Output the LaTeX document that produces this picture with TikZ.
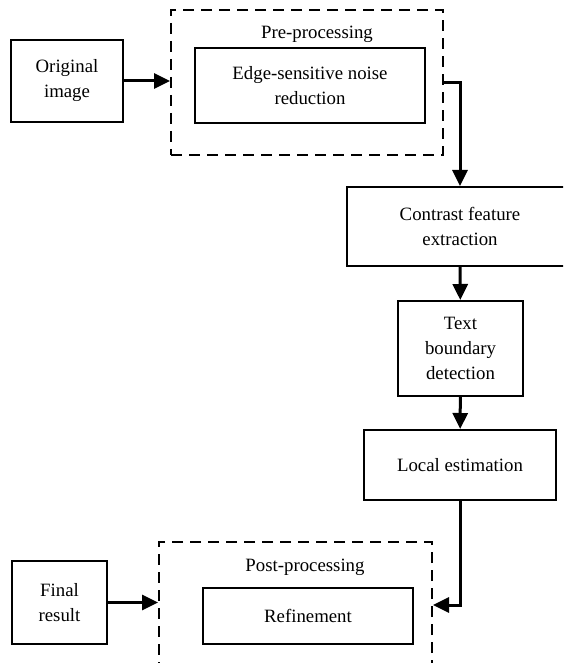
\documentclass[tikz,border=0pt]{standalone}
\usepackage{fontspec}
\setmainfont{Liberation Serif}
\usetikzlibrary{positioning, arrows.meta}

\begin{document}
\begin{tikzpicture}[x=0.5pt, y=-0.5pt,
        font=\fontsize{9.4}{12.5}\selectfont,
        block/.style={rectangle, draw, line width=1pt, align=center, inner sep=0pt},
        group/.style={rectangle, draw, line width=1pt, dash pattern=on 5.5pt off 3.5pt, inner sep=0pt},
        flow/.style={-{Triangle[length=8pt, width=7.5pt]}, line width=1.5pt}]
        \clip (0,0) rectangle (563,663);
        % Pre-processing group
        \node[group, minimum width=136pt, minimum height=72.5pt] (pre) at (307,82.5) {};
        \node (prelabel) at (317,34) {Pre-processing};
        \node[block, minimum width=115pt, minimum height=37.5pt] (noise) at (310,85.5) {Edge-sensitive noise\\reduction};
        \node[block, minimum width=56pt, minimum height=41pt] (orig) at (67,81) {Original\\image};
        % Main chain
        \node[block, minimum width=113pt, minimum height=39.5pt] (contrast) at (460,226.5) {Contrast feature\\extraction};
        \node[block, minimum width=62.5pt, minimum height=47.5pt] (boundary) at (460.5,348.5) {Text\\boundary\\detection};
        \node[block, minimum width=96pt, minimum height=35pt] (local) at (460,465) {Local estimation};
        % Post-processing group
        \node[group, minimum width=136.5pt, minimum height=63pt] (post) at (295.5,605) {};
        \node (postlabel) at (305,567) {Post-processing};
        \node[block, minimum width=105pt, minimum height=28pt] (refine) at (308,616) {Refinement};
        \node[block, minimum width=47.5pt, minimum height=41.5pt] (final) at (59.5,602.5) {Final\\result};
        % Arrows
        \draw[flow] (orig.east) -- (orig.east -| pre.west);
        \draw[flow] (pre.east) -| (contrast.north);
        \draw[flow] (contrast) -- (boundary);
        \draw[flow] (boundary) -- (local);
        \draw[flow] (local.south) |- (post.east);
        \draw[flow] (final.east) -- (final.east -| post.west);
    \end{tikzpicture}
\end{document}
